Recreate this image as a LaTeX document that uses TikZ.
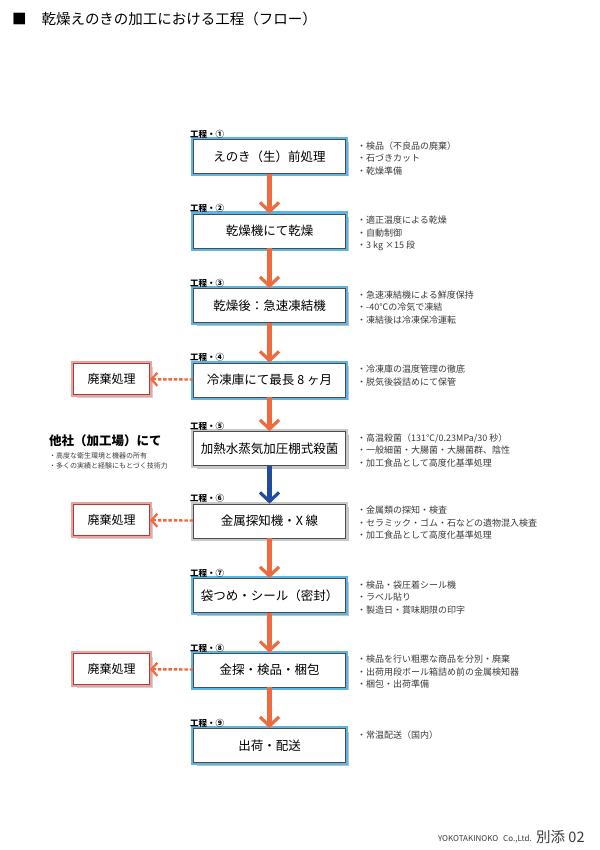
\documentclass[tikz,border=0pt]{standalone}
\usepackage{fontspec}
\setmainfont{Noto Sans CJK JP}
\usetikzlibrary{arrows.meta,shadows}

\definecolor{flowblue}{HTML}{5CB6E4}
\definecolor{flowgray}{HTML}{C9C9C9}
\definecolor{flowpink}{HTML}{E9A3A0}
\definecolor{flowred}{HTML}{A8403A}
\definecolor{floworange}{HTML}{EE6A3F}
\definecolor{flownavy}{HTML}{1F4C9C}
\definecolor{flowtext}{HTML}{3A3A3A}

\begin{document}
\begin{tikzpicture}[x=1pt,y=-1pt,
  stepbox/.style={fill=white, draw=black!70, line width=0.7pt,
    minimum width=152pt, minimum height=34pt, inner sep=0pt,
    font=\fontsize{12.5}{14}\selectfont,
    drop shadow={shadow xshift=3pt, shadow yshift=-3pt, opacity=0.4, fill=black!60},
    preaction={draw=#1, line width=5pt}},
  stepbox/.default=flowblue,
  wastebox/.style={fill=white, draw=flowred, line width=0.7pt,
    minimum width=76pt, minimum height=31pt, inner sep=0pt,
    font=\fontsize{12}{14}\selectfont,
    drop shadow={shadow xshift=3pt, shadow yshift=-3pt, opacity=0.3, fill=black!60},
    preaction={draw=flowpink, line width=5pt}},
  steplabel/.style={anchor=south west, inner sep=0pt, font=\fontsize{8.5}{10}\bfseries\selectfont},
  notes/.style={anchor=north west, inner sep=0pt, align=left, text=flowtext,
    font=\fontsize{9}{12.5}\selectfont},
  flow/.style={draw=floworange, line width=4.5pt,
    -{Straight Barb[length=9pt, width=19pt, line width=3.2pt]}},
  waste/.style={draw=floworange, line width=2.4pt, dash pattern=on 3.5pt off 1.8pt,
    -{Straight Barb[length=6pt, width=13pt, line width=2.2pt]}}]

  \useasboundingbox (0,0) rectangle (599,850);

  % title
  \node[anchor=west, inner sep=0pt, font=\fontsize{14.5}{16}\selectfont] (title) at (12,19)
    {■\hspace{15pt}乾燥えのきの加工における工程（フロー）};

  % step 1
  \node[stepbox] (s1) at (269.5,156.5) {えのき（生）前処理};
  \node[steplabel] (l1) at (190,138.5) {工程・①};
  \node[notes] (n1) at (357,141.5) {・検品（不良品の廃棄）\\・石づきカット\\・乾燥準備};

  % step 2
  \node[stepbox] (s2) at (269.5,231) {乾燥機にて乾燥};
  \node[steplabel] (l2) at (190,213) {工程・②};
  \node[notes] (n2) at (357,216) {・適正温度による乾燥\\・自動制御\\・3 kg ×15 段};

  % step 3
  \node[stepbox] (s3) at (269.5,305.5) {乾燥後：急速凍結機};
  \node[steplabel] (l3) at (190,287.5) {工程・③};
  \node[notes] (n3) at (357,290.5) {・急速凍結機による鮮度保持\\・-40℃の冷気で凍結\\・凍結後は冷凍保冷運転};

  % step 4 (waste to the left)
  \node[stepbox] (s4) at (269.5,380) {冷凍庫にて最長 8 ヶ月};
  \node[steplabel] (l4) at (190,362) {工程・④};
  \node[notes] (n4) at (357,365) {・冷凍庫の温度管理の徹底\\・脱気後袋詰めにて保管};
  \node[wastebox] (w4) at (111.5,379) {廃棄処理};

  % step 5 (other company)
  \node[stepbox=flowgray] (s5) at (269.5,448.5) {加熱水蒸気加圧棚式殺菌};
  \node[steplabel] (l5) at (190,430.5) {工程・⑤};
  \node[notes] (n5) at (357,433.5) {・高温殺菌（131℃/0.23MPa/30 秒）\\・一般細菌・大腸菌・大腸菌群、陰性\\・加工食品として高度化基準処理};
  \node[anchor=west, inner sep=0pt, font=\fontsize{12.5}{14}\bfseries\selectfont] (other) at (49,441)
    {他社（加工場）にて};
  \node[anchor=north west, inner sep=0pt, align=left, text=flowtext,
    font=\fontsize{7}{10.5}\selectfont] (othernotes) at (49,452)
    {・高度な衛生環境と機器の所有\\・多くの実績と経験にもとづく技術力};

  % step 6 (waste to the left)
  \node[stepbox=flowgray] (s6) at (269.5,521) {金属探知機・X 線};
  \node[steplabel] (l6) at (190,503) {工程・⑥};
  \node[notes] (n6) at (357,506) {・金属類の探知・検査\\・セラミック・ゴム・石などの遺物混入検査\\・加工食品として高度化基準処理};
  \node[wastebox] (w6) at (111.5,520) {廃棄処理};

  % step 7
  \node[stepbox] (s7) at (269.5,595.5) {袋つめ・シール（密封）};
  \node[steplabel] (l7) at (190,577.5) {工程・⑦};
  \node[notes] (n7) at (357,580.5) {・検品・袋圧着シール機\\・ラベル貼り\\・製造日・賞味期限の印字};

  % step 8 (waste to the left)
  \node[stepbox] (s8) at (269.5,670) {金探・検品・梱包};
  \node[steplabel] (l8) at (190,652) {工程・⑧};
  \node[notes] (n8) at (357,655) {・検品を行い粗悪な商品を分別・廃棄\\・出荷用段ボール箱詰め前の金属検知器\\・梱包・出荷準備};
  \node[wastebox] (w8) at (111.5,669) {廃棄処理};

  % step 9
  \node[stepbox] (s9) at (269.5,745.5) {出荷・配送};
  \node[steplabel] (l9) at (190,727.5) {工程・⑨};
  \node[notes] (n9) at (357,730.5) {・常温配送（国内）};

  % flow arrows
  \draw[flow] (s1) -- (s2);
  \draw[flow] (s2) -- (s3);
  \draw[flow] (s3) -- (s4);
  \draw[flow] (s4) -- (s5);
  \draw[flow, draw=flownavy] (s5) -- (s6);
  \draw[flow] (s6) -- (s7);
  \draw[flow] (s7) -- (s8);
  \draw[flow] (s8) -- (s9);

  % waste arrows
  \draw[waste] (s4) -- (w4);
  \draw[waste] (s6) -- (w6);
  \draw[waste] (s8) -- (w8);

  % footer
  \node[anchor=base east, inner sep=0pt, text=flowtext, font=\fontsize{8}{9}\selectfont] (company) at (532,841)
    {YOKOTAKINOKO\hspace{5pt}Co.,Ltd.};
  \node[anchor=base west, inner sep=0pt, text=flowtext, font=\fontsize{14.5}{16}\selectfont] (annex) at (536,842)
    {別添 02};
\end{tikzpicture}
\end{document}
